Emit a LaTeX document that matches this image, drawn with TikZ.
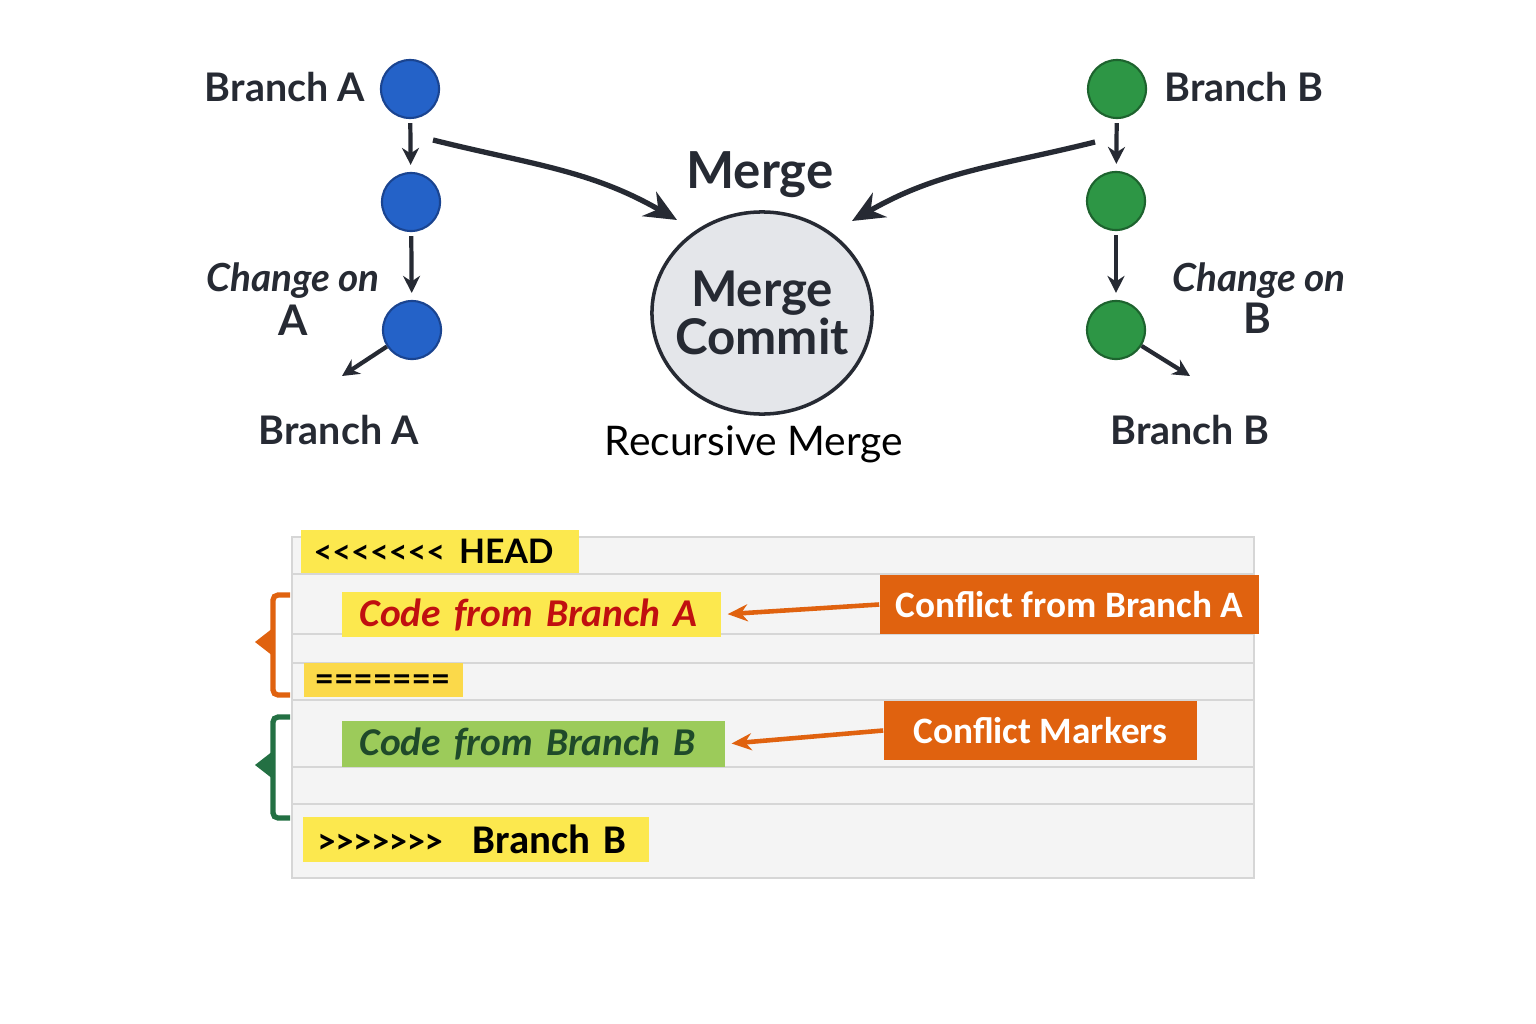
\documentclass[tikz,border=0pt]{standalone}
\usepackage{fontspec}
\setmainfont{Lato}
\newfontfamily\codefont{Carlito}
\usetikzlibrary{arrows.meta, shapes.geometric}

\definecolor{BranchABlue}{HTML}{2462C8}
\definecolor{BranchABorder}{HTML}{1A4490}
\definecolor{BranchBGreen}{HTML}{2D9645}
\definecolor{BranchBBorder}{HTML}{1D632E}
\definecolor{InkDark}{HTML}{262A33}
\definecolor{CommitFill}{HTML}{E4E6EA}
\definecolor{PanelFill}{HTML}{F4F4F4}
\definecolor{PanelRule}{HTML}{D6D6D6}
\definecolor{MarkerYellow}{HTML}{FCE84E}
\definecolor{SeparatorYellow}{HTML}{FBD94A}
\definecolor{CodeBGreen}{HTML}{9CCB5A}
\definecolor{CodeBText}{HTML}{1F4A2A}
\definecolor{CodeAText}{HTML}{C01010}
\definecolor{ConflictOrange}{HTML}{E0620F}
\definecolor{BraceGreen}{HTML}{237043}

\newcommand\headmark{<\kern0pt<\kern0pt<\kern0pt<\kern0pt<\kern0pt<\kern0pt<}
\newcommand\tailmark{>\kern0pt>\kern0pt>\kern0pt>\kern0pt>\kern0pt>\kern0pt>}

\begin{document}
\begin{tikzpicture}[x=0.01cm, y=-0.01cm,
    commitA/.style={circle, minimum size=0.58cm, inner sep=0pt, fill=BranchABlue, draw=BranchABorder, line width=0.6pt},
    commitB/.style={circle, minimum size=0.58cm, inner sep=0pt, fill=BranchBGreen, draw=BranchBBorder, line width=0.6pt},
    branchlabel/.style={text=InkDark, font=\bfseries\fontsize{11.2}{13}\selectfont, inner sep=0pt},
    changelabel/.style={text=InkDark, font=\bfseries\itshape\fontsize{11}{12}\selectfont, inner sep=0pt},
    flow/.style={-{Stealth[length=0.17cm, width=0.17cm]}, line width=1.2pt, draw=InkDark},
    mergearrow/.style={-{Stealth[length=0.32cm, width=0.28cm]}, line width=1.5pt, draw=InkDark},
    markerbox/.style={rectangle, anchor=west, minimum height=#1, inner ysep=0pt, align=left},
    conflictbox/.style={rectangle, fill=ConflictOrange, text=white, inner sep=0pt, font=\codefont\bfseries\fontsize{10.6}{12}\selectfont},
    conflictarrow/.style={-{Stealth[length=0.2cm, width=0.17cm]}, line width=1.3pt, draw=ConflictOrange, shorten >=0.06cm},
    brace/.style={line width=1.5pt, rounded corners=0.05cm}]

\useasboundingbox[fill=white] (0,0) rectangle (1536,1024);

\node[commitA] (a1) at (410,89) {};
\node[commitA] (a2) at (411,202) {};
\node[commitA] (a3) at (412,330) {};
\node[commitB] (b1) at (1117,89) {};
\node[commitB] (b2) at (1116,201) {};
\node[commitB] (b3) at (1116,330) {};

\node[branchlabel, anchor=base east] (a1label) at (366,101) {Branch A};
\node[branchlabel, anchor=base west] (b1label) at (1164,101) {Branch B};
\node[changelabel, anchor=base] (achange) at (293,291) {Change on};
\node[branchlabel, anchor=base, font=\bfseries\fontsize{12}{13}\selectfont] (aletter) at (293,335) {A};
\node[changelabel, anchor=base] (bchange) at (1259,291) {Change on};
\node[branchlabel, anchor=base, font=\bfseries\fontsize{12}{13}\selectfont] (bletter) at (1257,333) {B};
\node[branchlabel, anchor=base] (aout) at (339,444) {Branch A};
\node[branchlabel, anchor=base] (bout) at (1190,444) {Branch B};

\node[text=InkDark, font=\bfseries\fontsize{14.5}{16}\selectfont, anchor=base, inner sep=0pt] (mergetitle) at (760,188) {Merge};
\node[ellipse, minimum width=2.2cm, minimum height=2.02cm, inner sep=0pt, fill=CommitFill, draw=InkDark, line width=1pt] (commit) at (762,313) {};
\node[align=center, text=InkDark, inner sep=0pt, font=\bfseries\fontsize{14}{13.6}\selectfont] (commitlabel) at (commit) {Merge\\Commit};
\node[text=black, font=\fontsize{11.6}{14}\selectfont, anchor=base, inner sep=0pt] (recursive) at (754,455) {Recursive Merge};

\coordinate (a3end) at (342,376);
\coordinate (b3end) at (1190,376);
\coordinate (a1tail) at (433,140);
\coordinate (mergeheadA) at (677,220);
\coordinate (b1tail) at (1095,142);
\coordinate (mergeheadB) at (852,221);

\draw[flow, shorten <=0.04cm, shorten >=0.07cm] (a1) -- (a2);
\draw[flow, shorten <=0.04cm, shorten >=0.07cm] (a2) -- (a3);
\draw[flow, shorten <=0.04cm, shorten >=0.07cm] (b1) -- (b2);
\draw[flow, shorten <=0.04cm, shorten >=0.07cm] (b2) -- (b3);
\draw[flow] (a3) -- (a3end);
\draw[flow] (b3) -- (b3end);
\draw[mergearrow] (a1tail) to[out=-14, in=150] (mergeheadA);
\draw[mergearrow] (b1tail) to[out=194, in=30] (mergeheadB);

\draw[fill=PanelFill, draw=PanelRule, line width=0.8pt] (292,537) rectangle (1254,878);
\foreach \y in {574,634,663,700,767,804}
  \draw[PanelRule, line width=0.8pt] (292,\y) -- (1254,\y);

\node[markerbox=0.43cm, fill=MarkerYellow, inner xsep=0.13cm, text width=2.52cm, font=\bfseries\fontsize{9.2}{11}\selectfont] (head) at (300,551.5) {\mbox{\headmark\hspace{0.14cm}{\fontsize{9.6}{11}\selectfont HEAD}}};
\node[markerbox=0.45cm, fill=MarkerYellow, inner xsep=0.18cm, text width=3.43cm, text=CodeAText, font=\codefont\bfseries\itshape\fontsize{11.2}{13}\selectfont] (codeA) at (341,614.5) {\mbox{Code from Branch A}};
\node[markerbox=0.34cm, fill=SeparatorYellow, inner xsep=0.11cm, text width=1.37cm, text height=0.2cm, text depth=0pt, font=\bfseries\fontsize{9.5}{11}\selectfont] (separator) at (303,680) {\mbox{=======}};
\node[markerbox=0.46cm, fill=CodeBGreen, inner xsep=0.18cm, text width=3.47cm, text=CodeBText, font=\codefont\bfseries\itshape\fontsize{11.2}{13}\selectfont] (codeB) at (341,744) {\mbox{Code from Branch B}};
\node[markerbox=0.45cm, fill=MarkerYellow, inner xsep=0.15cm, text width=3.16cm, font=\codefont\bfseries\fontsize{11.6}{13}\selectfont] (tail) at (302,839.5) {\mbox{{\fontsize{10.2}{12}\selectfont\tailmark}\hspace{0.3cm}Branch B}};

\node[conflictbox, minimum width=3.79cm, minimum height=0.59cm] (confA) at (1069.5,604.5) {Conflict from Branch A};
\node[conflictbox, minimum width=3.13cm, minimum height=0.59cm] (confM) at (1040.5,730.5) {Conflict Markers};

\draw[conflictarrow] (confA.west) -- (codeA.east);
\draw[conflictarrow] (confM.west) -- (codeB.east);

\draw[brace, draw=ConflictOrange] (290,595) -- (273,595) -- (273,695) -- (290,695);
\fill[ConflictOrange] (273,628) -- (255,642) -- (273,656) -- cycle;
\draw[brace, draw=BraceGreen] (290,717) -- (273,717) -- (273,818) -- (290,818);
\fill[BraceGreen] (273,751) -- (255,765) -- (273,779) -- cycle;

\end{tikzpicture}
\end{document}
